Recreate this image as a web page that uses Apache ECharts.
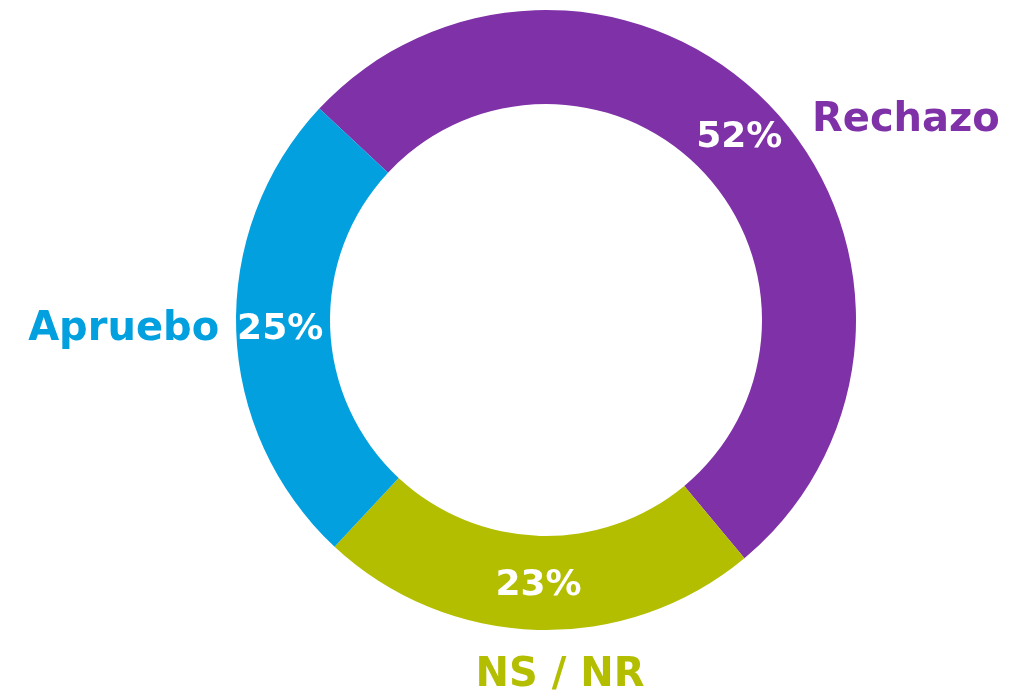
<!DOCTYPE html>
<html lang="es">
<head>
    <meta charset="utf-8">
    <script src="https://cdn.jsdelivr.net/npm/echarts@6/dist/echarts.min.js"></script>
    <style>
        html, body { margin: 0; padding: 0; background: #fff; }
        #chart { width: 1028px; height: 696px; }
    </style>
</head>
<body>
<div id="chart"></div>
<script type="text/javascript">
    // datos de la encuesta
    var categorias = ['Rechazo', 'NS / NR', 'Apruebo'];
    var porcentajes = [52, 23, 25];
    var colores = ['#7F31A8', '#B4BE00', '#03A0DF'];

    var fuente = 'DejaVu Sans';

    // ajuste fino de los nombres (dx, dy, alineacion)
    var ajustes = [
        { dx: 27, dy: 22 },
        { dx: 28, dy: 34, align: 'center' },
        { dx: 0, dy: -2 }
    ];

    var option = {
        backgroundColor: '#fff',
        animation: false,
        series: [
            {
                // anillo con los porcentajes
                type: 'pie',
                center: [546, 320],
                radius: [216, 310],
                startAngle: 137,
                silent: true,
                label: {
                    show: true,
                    position: 'inside',
                    color: '#fff',
                    fontFamily: fuente,
                    fontWeight: 'bold',
                    fontSize: 36,
                    formatter: '{c}%'
                },
                labelLine: { show: false },
                data: categorias.map(function (nombre, i) {
                    return { name: nombre, value: porcentajes[i], itemStyle: { color: colores[i] } };
                })
            },
            {
                // nombres por fuera del anillo
                type: 'pie',
                center: [546, 320],
                radius: [216, 310],
                startAngle: 137,
                silent: true,
                itemStyle: { color: 'transparent' },
                label: {
                    show: true,
                    position: 'outside',
                    fontFamily: fuente,
                    fontWeight: 'bold',
                    fontSize: 40,
                    formatter: '{b}'
                },
                labelLine: { show: false, length: 12, length2: 0 },
                labelLayout: function (params) {
                    return ajustes[params.dataIndex];
                },
                data: categorias.map(function (nombre, i) {
                    return {
                        name: nombre,
                        value: porcentajes[i],
                        itemStyle: { color: 'transparent' },
                        label: { color: colores[i] }
                    };
                })
            }
        ]
    };

    var myChart = echarts.init(document.getElementById('chart'));
    myChart.setOption(option);
</script>
</body>
</html>
